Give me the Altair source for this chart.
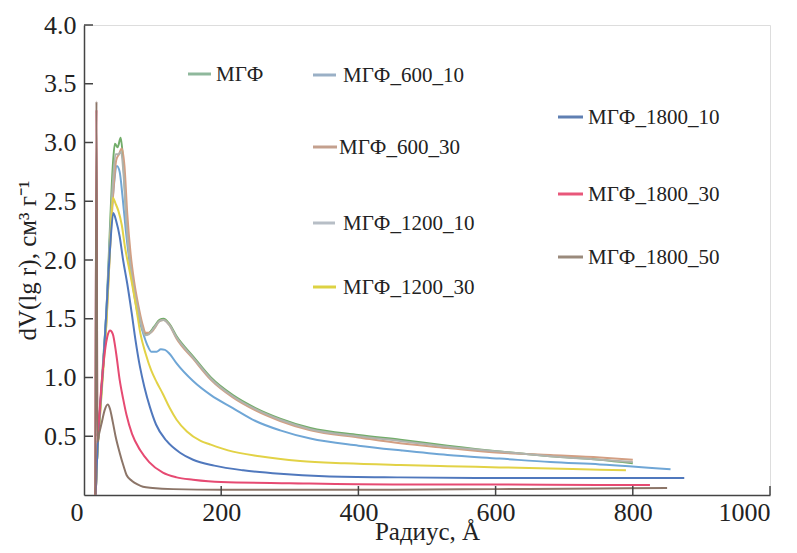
import altair as alt
import pandas as pd

# ---------------- data ----------------
series_names = ["МГФ", "МГФ_600_10", "МГФ_600_30", "МГФ_1200_10",
                "МГФ_1200_30", "МГФ_1800_10", "МГФ_1800_30", "МГФ_1800_50"]

mgf_x = [17, 19, 23, 28, 33, 38, 42, 45, 49, 53.5, 57, 62, 67, 72, 78, 84, 89, 95,
         102, 110, 116, 124, 135, 159, 185, 217, 250, 286, 330, 400, 461, 530, 606, 680, 752, 800]
mgf_y = [0.0, 0.3, 0.7, 1.15, 1.6, 2.3, 2.8, 2.99, 2.96, 3.04, 2.85, 2.35, 2.0, 1.8, 1.62, 1.45, 1.37, 1.38,
         1.43, 1.49, 1.5, 1.46, 1.35, 1.18, 1.0, 0.85, 0.74, 0.65, 0.57, 0.51, 0.47, 0.42, 0.37, 0.33, 0.3, 0.27]

m600_10_x = [17, 19, 23, 28, 33, 38, 43, 48, 52, 56, 61, 66, 72, 78, 85, 92, 98,
             106, 112, 118, 125, 135, 159, 185, 217, 250, 286, 330, 400, 461, 530, 606, 680, 752, 855]
m600_10_y = [0.0, 0.3, 0.7, 1.1, 1.6, 2.2, 2.6, 2.8, 2.75, 2.55, 2.25, 2.0, 1.75, 1.55, 1.4, 1.28, 1.22,
             1.22, 1.24, 1.235, 1.2, 1.12, 0.97, 0.85, 0.74, 0.63, 0.55, 0.48, 0.42, 0.38, 0.34, 0.31, 0.28, 0.26, 0.22]

m600_30_x = [17, 19, 23, 28, 33, 38, 43, 47, 51, 55, 59, 63, 68, 73, 79, 85, 90, 96,
             103, 110, 116, 124, 135, 159, 185, 217, 250, 286, 330, 400, 461, 530, 606, 680, 752, 800]
m600_30_y = [0.0, 0.3, 0.65, 1.1, 1.5, 2.1, 2.6, 2.85, 2.9, 2.95, 2.8, 2.4, 2.05, 1.82, 1.62, 1.46, 1.38, 1.38,
             1.42, 1.48, 1.49, 1.45, 1.33, 1.16, 0.98, 0.83, 0.72, 0.63, 0.55, 0.49, 0.44, 0.4, 0.36, 0.34, 0.32, 0.3]

m1200_10_x = [17, 19, 23, 28, 33, 38, 42, 46, 50, 54, 58, 62, 67, 72, 78, 84, 89, 95,
              102, 110, 116, 124, 135, 159, 185, 217, 250, 286, 330, 400, 461, 530, 606, 680, 752, 800]
m1200_10_y = [0.0, 0.3, 0.68, 1.12, 1.55, 2.2, 2.65, 2.9, 2.9, 2.92, 2.7, 2.3, 1.98, 1.78, 1.6, 1.44, 1.36, 1.37,
              1.42, 1.48, 1.49, 1.45, 1.34, 1.17, 0.99, 0.84, 0.73, 0.64, 0.56, 0.5, 0.46, 0.41, 0.37, 0.33, 0.3, 0.28]

m1200_30_x = [17, 19, 23, 28, 33, 38, 42, 46, 50, 55, 60, 65, 70, 76, 82, 90, 98, 106,
              115, 125, 135, 150, 170, 184, 210, 256, 315, 380, 461, 530, 606, 680, 752, 790]
m1200_30_y = [0.0, 0.3, 0.65, 1.05, 1.5, 2.1, 2.53, 2.48, 2.42, 2.3, 2.1, 1.95, 1.8, 1.6, 1.38, 1.2, 1.06, 0.96,
              0.86, 0.74, 0.64, 0.54, 0.46, 0.43, 0.38, 0.33, 0.29, 0.27, 0.255, 0.245, 0.235, 0.225, 0.215, 0.21]

m1800_10_x = [17, 19, 23, 28, 33, 38, 42.7, 47, 52, 57, 63, 69.5, 75, 81.6, 88, 96, 105, 120.5,
              140, 159, 190, 232, 286, 350, 461, 600, 750, 875]
m1800_10_y = [0.0, 0.3, 0.7, 1.1, 1.6, 2.1, 2.4, 2.33, 2.2, 2.0, 1.8, 1.55, 1.32, 1.09, 0.92, 0.75, 0.6, 0.46,
              0.36, 0.3, 0.25, 0.21, 0.18, 0.16, 0.15, 0.145, 0.145, 0.145]

m1800_30_x = [16.5, 18.2, 19.5, 22, 25, 30, 35, 38, 42, 47, 52, 57, 62, 70, 82, 95, 115,
              135, 159, 200, 300, 450, 600, 750, 825]
m1800_30_y = [0.0, 3.28, 0.5, 0.65, 0.9, 1.2, 1.37, 1.4, 1.37, 1.2, 0.98, 0.82, 0.68, 0.52, 0.38, 0.28, 0.19,
              0.15, 0.13, 0.11, 0.1, 0.09, 0.09, 0.085, 0.085]

m1800_50_x = [16.5, 18.2, 19.5, 22, 26, 30, 34.5, 38, 42, 46, 52, 58, 62, 70, 78, 86, 100,
              130, 200, 300, 450, 600, 750, 850]
m1800_50_y = [0.0, 3.35, 0.45, 0.52, 0.62, 0.72, 0.77, 0.73, 0.62, 0.5, 0.36, 0.24, 0.17, 0.12, 0.09, 0.07, 0.06,
              0.05, 0.045, 0.045, 0.045, 0.05, 0.055, 0.06]

series_x = [mgf_x, m600_10_x, m600_30_x, m1200_10_x, m1200_30_x, m1800_10_x, m1800_30_x, m1800_50_x]
series_y = [mgf_y, m600_10_y, m600_30_y, m1200_10_y, m1200_30_y, m1800_10_y, m1800_30_y, m1800_50_y]

line_colors = ["#72ad6a", "#6fa6d6", "#d39f83", "#b0b3ad", "#e2d246",
               "#5078bd", "#e64a72", "#8c7568"]
legend_colors = ["#8fb89c", "#9ab0c6", "#c4a08e", "#b7bec6", "#ddd243",
                 "#5f7fb2", "#e8577a", "#9a8a7c"]

x_ticks = [0, 200, 400, 600, 800, 1000]
y_ticks = [0.5, 1.0, 1.5, 2.0, 2.5, 3.0, 3.5, 4.0]

# legend layout (pixels inside the plot area)
legend_line_x1 = [104, 229, 229, 229, 229, 474, 474, 474]
legend_line_x2 = [127, 252, 253, 251, 252, 499, 499, 499]
legend_row_y = [49, 50, 122, 198, 262, 92, 169, 232]
legend_text_x = [132, 259, 255, 259, 259, 504, 504, 504]

# ---------------- build tables ----------------
rows = []
for i, name in enumerate(series_names):
    for j, (xv, yv) in enumerate(zip(series_x[i], series_y[i])):
        rows.append({"series": name, "r": xv, "v": yv, "order": j, "k": i})
df = pd.DataFrame(rows)

leg = pd.DataFrame({
    "series": series_names,
    "x1": legend_line_x1, "x2": legend_line_x2,
    "y": legend_row_y, "tx": legend_text_x,
    "col": legend_colors,
})

W, H = 686, 470
FONT = "Liberation Serif"

xscale = alt.Scale(domain=[0, 1000], nice=False, zero=False)
yscale = alt.Scale(domain=[0, 4], nice=False)

lines = alt.Chart(df).mark_line(strokeWidth=2, interpolate="monotone", clip=True).encode(
    x=alt.X("r:Q", scale=xscale,
            axis=alt.Axis(values=x_ticks, format="d", ticks=False, grid=False, domainColor="#444",
                          domainWidth=1.5, labelFont=FONT, labelFontSize=26, labelColor="#222",
                          labelPadding=4,
                          labelOffset={"condition": {"test": "datum.value === 0", "value": -14}, "value": 0},
                          title="Радиус, Å", titleFont=FONT, titleFontSize=25,
                          titleFontWeight="normal", titleColor="#222",
                          titleBaseline="alphabetic", titleY=44)),
    y=alt.Y("v:Q", scale=yscale,
            axis=alt.Axis(values=y_ticks, format=".1f", ticks=False, grid=False, domainColor="#444",
                          domainWidth=1.5, labelFont=FONT, labelFontSize=26, labelColor="#222",
                          labelPadding=8,
                          title="dV(lg r), см³ г⁻¹", titleFont=FONT, titleFontSize=25,
                          titleFontWeight="normal", titleColor="#222", titlePadding=3)),
    color=alt.Color("series:N", scale=alt.Scale(domain=series_names, range=line_colors), legend=None),
    detail="series:N",
    order="order:Q",
)

# inward axis ticks
xt = pd.DataFrame({"t": x_ticks[1:]})
xtick = alt.Chart(xt).mark_rule(color="#444", strokeWidth=1.5).encode(
    x=alt.X("t:Q", scale=xscale), y=alt.value(H - 9), y2=alt.value(H))
yt = pd.DataFrame({"t": y_ticks})
ytick = alt.Chart(yt).mark_rule(color="#444", strokeWidth=1.5).encode(
    y=alt.Y("t:Q", scale=yscale), x=alt.value(0), x2=alt.value(9))

leg_lines = alt.Chart(leg).mark_rule(strokeWidth=3).encode(
    x=alt.X("x1:Q", scale=None), x2="x2:Q", y=alt.Y("y:Q", scale=None),
    color=alt.Color("col:N", scale=None))
leg_text = alt.Chart(leg).mark_text(align="left", baseline="middle", font=FONT, fontSize=21,
                                    color="#222", dy=1).encode(
    x=alt.X("tx:Q", scale=None), y=alt.Y("y:Q", scale=None), text="series:N")

chart = alt.layer(lines, xtick, ytick, leg_lines, leg_text).properties(
    width=W, height=H,
    autosize=alt.AutoSizeParams(type="none"),
    padding={"left": 76, "top": 17, "right": 19, "bottom": 50},
).configure_view(stroke=None).configure(background="white")

chart.save("out.html", embed_options={"renderer": "svg", "actions": False})
